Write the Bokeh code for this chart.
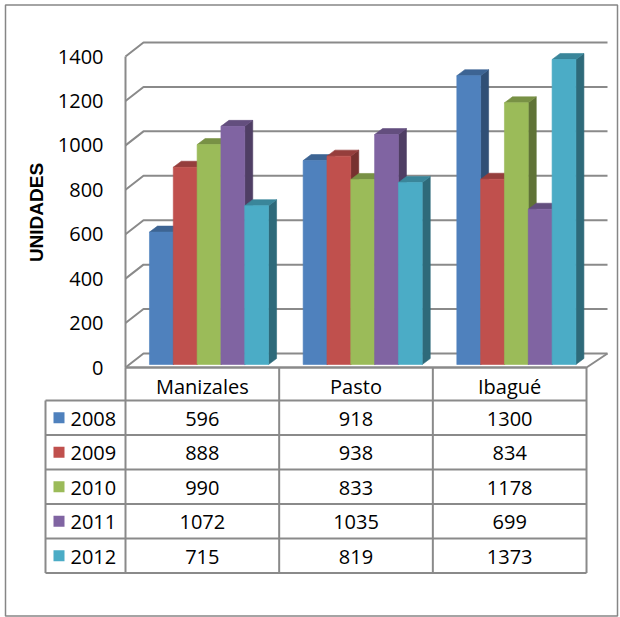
import math
from bokeh.plotting import figure
from bokeh.models import Range1d
from bokeh.core.properties import value
from bokeh.embed import file_html
from bokeh.resources import INLINE

# ---------------- data ----------------
categories = ["Manizales", "Pasto", "Ibagué"]
years = ["2008", "2009", "2010", "2011", "2012"]
v2008 = [596, 918, 1300]
v2009 = [888, 938, 834]
v2010 = [990, 833, 1178]
v2011 = [1072, 1035, 699]
v2012 = [715, 819, 1373]
series = [v2008, v2009, v2010, v2011, v2012]
colors = ["#4F81BD", "#C0504D", "#9BBB59", "#8064A2", "#4BACC6"]
y_ticks = [0, 200, 400, 600, 800, 1000, 1200, 1400]
axis_title = "UNIDADES"

# ---------------- layout (pixels) ----------------
W, H = 620, 617
ORIGIN_X = 125.0          # front-left corner of the floor
ORIGIN_Y = 367.0
CAT_W = 153.67            # pixels per category
PX_PER_UNIT = 311.0 / 1400.0

X0 = -ORIGIN_X / CAT_W
X1 = (W - ORIGIN_X) / CAT_W
Y1 = ORIGIN_Y / PX_PER_UNIT
Y0 = -(H - ORIGIN_Y) / PX_PER_UNIT


def dx(px):
    return px / CAT_W


def dy(px):
    return px / PX_PER_UNIT


def X(px):
    return (px - ORIGIN_X) / CAT_W


def Y(px):
    return (ORIGIN_Y - px) / PX_PER_UNIT


def shade(hex_color, f):
    h = hex_color.lstrip("#")
    r, g, b = (int(h[k:k + 2], 16) for k in (0, 2, 4))
    return "#%02x%02x%02x" % (int(r * f), int(g * f), int(b * f))


GRID = "#8a8a8a"
FONT = value("Open Sans")
FS = "20px"

p = figure(width=W, height=H, x_range=Range1d(X0, X1), y_range=Range1d(Y0, Y1),
           output_backend="svg", toolbar_location=None, min_border=0,
           x_axis_location=None, y_axis_location=None,
           outline_line_color=None, background_fill_color="white",
           border_fill_color="white")
p.grid.visible = False

n_cat = len(categories)
WALL_DX_L = dx(18)
WALL_DX_R = dx(21)
WALL_DY = dy(14)
back_right = n_cat + WALL_DX_R

# walls: gridlines on left wall and back wall
gx, gy = [], []
for t in y_ticks:
    gx.append([0, WALL_DX_L, back_right])
    gy.append([t, t + WALL_DY, t + WALL_DY])
p.multi_line(gx, gy, line_color=GRID, line_width=2)
# left front edge
p.line([0, 0], [0, y_ticks[-1]], line_color=GRID, line_width=2)
# floor front + right edge
p.line([0, n_cat, back_right], [0, 0, WALL_DY], line_color=GRID, line_width=2)

# bars (3-D look)
BAR_START = 0.156
BAR_W = 0.155
BAR_BASE = dy(3)
BAR_DX = dx(8)
BAR_DY = dy(6)

pxs, pys, pcols = [], [], []
for i in range(n_cat):
    for j, s in enumerate(series):
        v = s[i]
        x0 = i + BAR_START + j * BAR_W
        x1 = x0 + BAR_W
        b = BAR_BASE
        t = BAR_BASE + v
        # side
        pxs.append([x1, x1, x1 + BAR_DX, x1 + BAR_DX])
        pys.append([b, t, t + BAR_DY, b + BAR_DY])
        pcols.append(shade(colors[j], 0.62))
        # top
        pxs.append([x0, x1, x1 + BAR_DX, x0 + BAR_DX])
        pys.append([t, t, t + BAR_DY, t + BAR_DY])
        pcols.append(shade(colors[j], 0.78))
        # front
        pxs.append([x0, x1, x1, x0])
        pys.append([b, b, t, t])
        pcols.append(colors[j])
p.patches(pxs, pys, fill_color=pcols, line_color=pcols, line_width=0.6)

# y tick labels
p.text(x=[X(103)] * len(y_ticks), y=y_ticks, text=[str(t) for t in y_ticks],
       text_align="right", text_baseline="middle", text_font=FONT,
       text_font_size=FS, text_color="#000000")

# axis title
p.text(x=[X(36)], y=[Y(212)], text=[axis_title], angle=math.pi / 2,
       text_align="center", text_baseline="middle",
       text_font=value("Liberation Sans"), text_font_style="bold",
       text_font_size="19px", text_color="#000000")

# ---------------- data table ----------------
HEAD_TOP = 367.0
HEAD_BOT = 400.0
ROW_H = 34.5
LEG_LEFT = 45.0
row_edges = [HEAD_BOT + k * ROW_H for k in range(len(years) + 1)]

lx, ly = [], []
lx.append([0, n_cat])
ly.append([Y(HEAD_TOP), Y(HEAD_TOP)])
for e in row_edges:
    lx.append([X(LEG_LEFT), n_cat])
    ly.append([Y(e), Y(e)])
lx.append([X(LEG_LEFT), X(LEG_LEFT)])
ly.append([Y(HEAD_BOT), Y(row_edges[-1])])
for i in range(n_cat + 1):
    lx.append([i, i])
    ly.append([Y(HEAD_TOP), Y(row_edges[-1])])
p.multi_line(lx, ly, line_color=GRID, line_width=2)

# header
p.text(x=[i + 0.5 for i in range(n_cat)], y=[Y(386)] * n_cat, text=categories,
       text_align="center", text_baseline="middle", text_font=FONT,
       text_font_size=FS, text_color="#000000")

row_centers = [Y(row_edges[k] + ROW_H / 2 + 1) for k in range(len(years))]
# legend keys
p.rect(x=[X(58.5)] * len(years), y=[Y(row_edges[k] + ROW_H / 2) for k in range(len(years))],
       width=dx(11), height=dy(11), fill_color=colors, line_color=None)
p.text(x=[X(70)] * len(years), y=row_centers, text=years, text_align="left",
       text_baseline="middle", text_font=FONT, text_font_size=FS, text_color="#000000")
# values
tx, ty, tt = [], [], []
for k, s in enumerate(series):
    for i in range(n_cat):
        tx.append(i + 0.5)
        ty.append(row_centers[k])
        tt.append(str(s[i]))
p.text(x=tx, y=ty, text=tt, text_align="center", text_baseline="middle",
       text_font=FONT, text_font_size=FS, text_color="#000000")

# outer chart border
p.quad(left=[X(5)], right=[X(617)], top=[Y(4.5)], bottom=[Y(615.5)],
       fill_color=None, line_color="#868686", line_width=1.5)

open("out.html", "w").write(file_html(p, INLINE))
